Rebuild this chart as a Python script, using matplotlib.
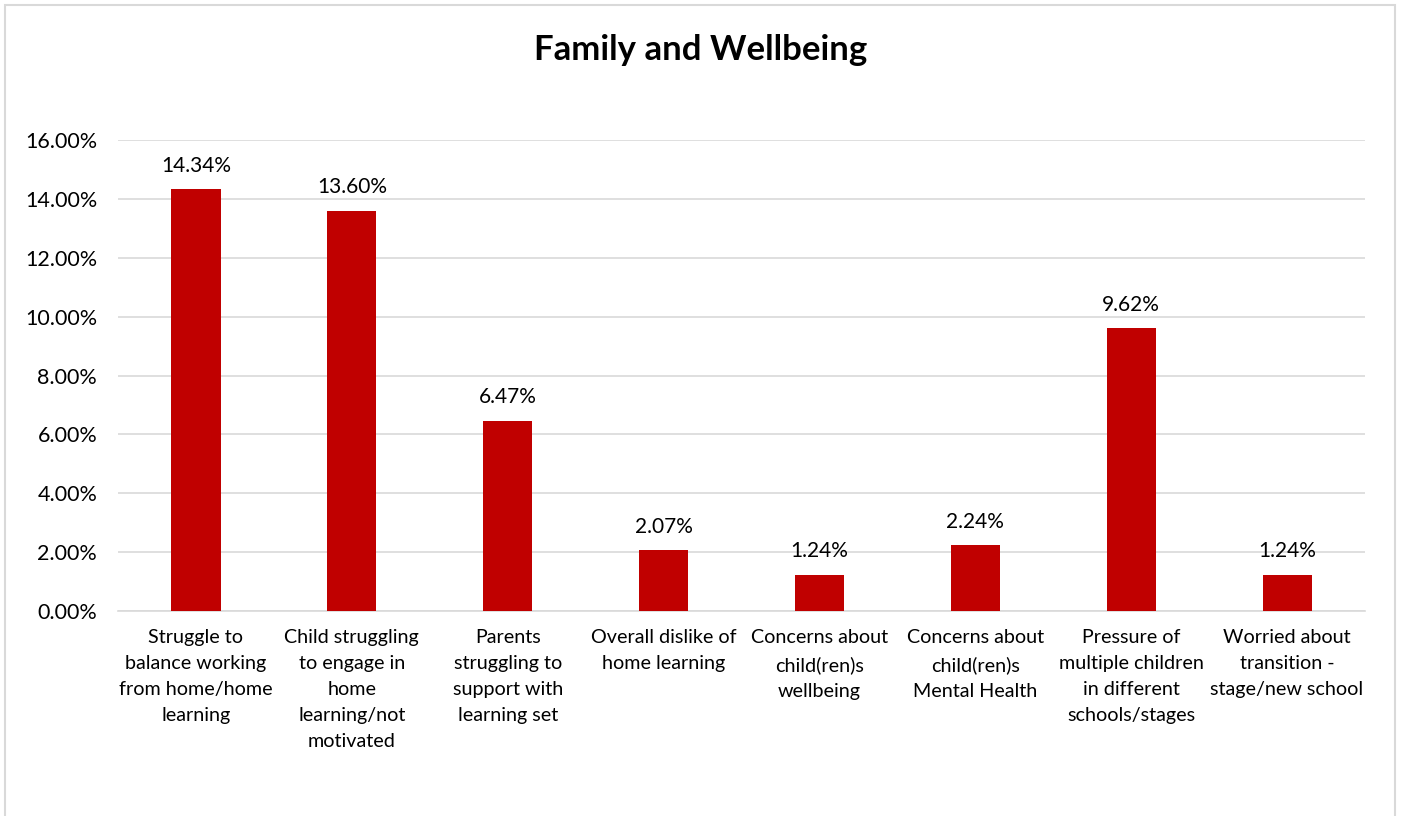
import matplotlib
matplotlib.use('Agg')
import matplotlib.pyplot as plt
from matplotlib.patches import Rectangle
from matplotlib.ticker import FuncFormatter

plt.rcParams['font.family'] = ['Lato', 'DejaVu Sans']

categories = [
    'Struggle to\nbalance working\nfrom home/home\nlearning',
    'Child struggling\nto engage in\nhome\nlearning/not\nmotivated',
    'Parents\nstruggling to\nsupport with\nlearning set',
    'Overall dislike of\nhome learning',
    'Concerns about\nchild(ren)s\nwellbeing',
    'Concerns about\nchild(ren)s\nMental Health',
    'Pressure of\nmultiple children\nin different\nschools/stages',
    'Worried about\ntransition -\nstage/new school',
]
values = [14.34, 13.60, 6.47, 2.07, 1.24, 2.24, 9.62, 1.24]

fig = plt.figure(figsize=(14.02, 8.16), dpi=100)
ax = fig.add_axes([0.0842, 0.2512, 0.8894, 0.5772])

# light grey frame around the chart (open at the bottom)
fig.patches.append(Rectangle((5 / 1402, -0.1), 1390 / 1402, 1.1 - 5 / 816,
                             transform=fig.transFigure, fill=False,
                             edgecolor='#d9d9d9', linewidth=1.5))

x = range(len(values))
bars = ax.bar(x, values, width=0.315, color='#c00000', zorder=3)
for xi, v in zip(x, values):
    ax.text(xi, v + 0.45, f'{v:.2f}%', ha='center', va='bottom', fontsize=15, color='#000000')

ax.set_xlim(-0.5, len(values) - 0.5)
ax.set_ylim(0, 16)
ax.set_yticks([0, 2, 4, 6, 8, 10, 12, 14, 16])
ax.yaxis.set_major_formatter(FuncFormatter(lambda v, p: f'{v:.2f}%'))
ax.grid(axis='y', color='#d9d9d9', linewidth=1.2, zorder=0)
ax.set_xticks(list(x))
ax.set_xticklabels(categories, fontsize=14.2, linespacing=1.65, va='top')
ax.tick_params(axis='both', length=0, colors='#000000')
ax.tick_params(axis='y', pad=15, labelsize=15.5)
ax.tick_params(axis='x', pad=13)
for s in ['top', 'right', 'left']:
    ax.spines[s].set_visible(False)
ax.spines['bottom'].set_color('#d9d9d9')
ax.spines['bottom'].set_linewidth(1.2)

fig.text(0.5, 1 - 50 / 816, 'Family and Wellbeing', ha='center', va='center',
         fontsize=25, fontweight='bold')

fig.savefig('out.png', dpi=100)
